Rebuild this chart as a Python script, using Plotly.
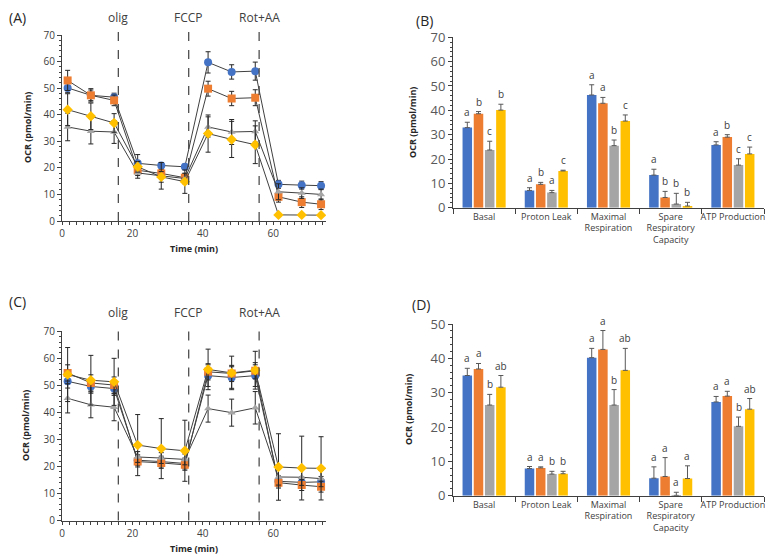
import plotly.graph_objects as go

W, H = 773, 557
OFF = 8  # default page body margin; figure is shrunk so it fills the window exactly

# ---- Seahorse time course (A, C) ----
time_min = [1.6, 8.2, 14.8, 21.5, 28.2, 34.9, 41.5, 48.2, 54.9, 61.5, 68.1, 73.6]
injections = [16, 36, 56]
injection_labels = ["olig", "FCCP", "Rot+AA"]

a_blue = [50.1, 47.3, 46.6, 21.7, 20.9, 20.4, 59.7, 56.1, 56.4, 13.8, 13.5, 13.3]
a_blue_err = [1.8, 2.0, 1.5, 3.3, 1.0, 1.0, 4.0, 2.7, 3.4, 1.5, 1.5, 1.5]
a_orange = [52.9, 47.3, 45.4, 19.1, 17.9, 16.3, 49.8, 46.1, 46.4, 9.1, 7.1, 6.3]
a_orange_err = [3.8, 2.5, 2.0, 2.0, 1.5, 1.5, 2.8, 2.7, 3.0, 2.0, 2.0, 2.0]
a_gray = [35.4, 33.8, 33.5, 18.1, 17.0, 16.0, 35.4, 33.5, 33.7, 11.0, 10.5, 10.0]
a_gray_err = [5.2, 4.8, 4.3, 2.0, 5.0, 2.0, 3.8, 4.7, 4.0, 3.0, 2.0, 2.0]
a_yellow = [41.9, 39.4, 36.9, 20.4, 16.6, 14.8, 32.9, 30.7, 28.7, 2.3, 2.3, 2.2]
a_yellow_err = [6.0, 5.0, 3.5, 2.0, 2.0, 4.4, 7.0, 6.8, 7.1, 0.5, 0.5, 0.5]

c_blue = [51.5, 49.6, 48.8, 22.3, 21.8, 21.1, 53.6, 52.9, 53.6, 14.5, 14.1, 14.3]
c_blue_err = [2.5, 2.5, 2.5, 2.0, 2.0, 2.0, 4.0, 4.0, 4.0, 2.0, 2.0, 2.0]
c_orange = [54.6, 50.9, 50.1, 21.8, 21.3, 20.6, 55.0, 54.4, 55.4, 14.0, 13.1, 12.5]
c_orange_err = [3.0, 3.0, 3.0, 2.0, 2.0, 2.0, 3.0, 3.0, 3.0, 2.0, 2.0, 2.0]
c_gray = [45.2, 42.8, 41.9, 23.5, 23.1, 22.6, 41.4, 39.9, 41.7, 16.1, 16.0, 15.5]
c_gray_err = [5.4, 4.8, 5.0, 2.0, 2.0, 2.0, 5.0, 5.0, 6.0, 3.0, 3.0, 3.0]
c_yellow = [54.0, 51.9, 51.3, 27.9, 26.6, 25.8, 55.9, 54.6, 55.6, 19.8, 19.4, 19.3]
c_yellow_err = [10.0, 9.2, 8.7, 11.3, 11.1, 11.3, 7.5, 6.2, 7.0, 12.3, 11.8, 11.7]

# ---- parameter bar charts (B, D) ----
categories = ["Basal", "Proton Leak", "Maximal<br>Respiration",
              "Spare<br>Respiratory<br>Capacity", "ATP Production"]

b_blue = [32.9, 7.1, 46.3, 13.4, 25.8]
b_blue_err = [2.2, 1.1, 4.2, 2.4, 1.3]
b_orange = [38.6, 9.6, 42.9, 4.2, 29.0]
b_orange_err = [0.9, 0.8, 2.4, 2.5, 1.0]
b_gray = [23.7, 6.2, 25.5, 1.5, 17.5]
b_gray_err = [3.6, 0.9, 2.3, 4.4, 2.6]
b_yellow = [40.1, 15.1, 35.6, 0.7, 22.1]
b_yellow_err = [2.4, 0.3, 2.5, 1.5, 2.8]
b_letters = [["a", "a", "a", "a", "a"],
             ["b", "b", "a", "b", "b"],
             ["c", "a", "b", "b", "c"],
             ["b", "c", "c", "b", "c"]]

d_blue = [35.0, 7.9, 40.2, 5.1, 27.3]
d_blue_err = [2.1, 0.6, 2.7, 3.3, 1.6]
d_orange = [36.9, 8.1, 42.6, 5.6, 29.0]
d_orange_err = [1.6, 0.3, 5.5, 5.5, 1.4]
d_gray = [26.4, 6.3, 26.4, 0.1, 20.2]
d_gray_err = [3.1, 0.8, 4.5, 0.9, 2.7]
d_yellow = [31.6, 6.4, 36.5, 5.0, 25.2]
d_yellow_err = [3.4, 0.7, 6.4, 3.7, 3.1]
d_letters = [["a", "a", "a", "a", "a"],
             ["a", "a", "a", "a", "a"],
             ["b", "b", "b", "a", "b"],
             ["ab", "b", "ab", "a", "ab"]]

colors = ["#4472C4", "#ED7D31", "#A5A5A5", "#FFC000"]
symbols = ["circle", "square", "triangle-up", "diamond"]
TXT = "#404040"

FW, FH = W - OFF, H - OFF


def fx(px):
    return (px - OFF) / FW


def fy(py):
    return 1 - (py - OFF) / FH


fig = go.Figure()

# line panels
for (xa, ya), series in [
    (("x", "y"), [(a_blue, a_blue_err), (a_orange, a_orange_err), (a_gray, a_gray_err), (a_yellow, a_yellow_err)]),
    (("x3", "y3"), [(c_blue, c_blue_err), (c_orange, c_orange_err), (c_gray, c_gray_err), (c_yellow, c_yellow_err)]),
]:
    for i, (vals, errs) in enumerate(series):
        fig.add_trace(go.Scatter(
            x=time_min, y=vals, xaxis=xa, yaxis=ya, mode="lines+markers",
            line=dict(color="#404040", width=1),
            marker=dict(color=colors[i], symbol=symbols[i], size=8 if i != 2 else 7),
            error_y=dict(type="data", array=errs, color="#262626", thickness=1, width=2.5),
            showlegend=False))

# bar panels
for (xa, ya), series in [
    (("x2", "y2"), [(b_blue, b_blue_err), (b_orange, b_orange_err), (b_gray, b_gray_err), (b_yellow, b_yellow_err)]),
    (("x4", "y4"), [(d_blue, d_blue_err), (d_orange, d_orange_err), (d_gray, d_gray_err), (d_yellow, d_yellow_err)]),
]:
    for i, (vals, errs) in enumerate(series):
        fig.add_trace(go.Bar(
            x=list(range(len(categories))), y=vals, xaxis=xa, yaxis=ya,
            marker=dict(color=colors[i], line=dict(width=0)),
            error_y=dict(type="data", array=errs, arrayminus=[0] * len(errs), symmetric=False,
                         color="#595959", thickness=1, width=2.5),
            showlegend=False))

BARGAP, GROUPGAP = 0.28, 0.15
slot = (1 - BARGAP) / 4

annotations = []
shapes = []

# letters above bars
for xa, ya, series, letters in [
    ("x2", "y2", [(b_blue, b_blue_err), (b_orange, b_orange_err), (b_gray, b_gray_err), (b_yellow, b_yellow_err)], b_letters),
    ("x4", "y4", [(d_blue, d_blue_err), (d_orange, d_orange_err), (d_gray, d_gray_err), (d_yellow, d_yellow_err)], d_letters),
]:
    for j, (vals, errs) in enumerate(series):
        for k in range(len(categories)):
            annotations.append(dict(
                x=k - (1 - BARGAP) / 2 + slot * (j + 0.5), y=vals[k] + errs[k],
                xref=xa, yref=ya, text=letters[j][k], showarrow=False,
                xanchor="center", yanchor="bottom", yshift=1, font=dict(size=10, color=TXT)))

# injection markers on line panels
for xa, ya, label_y in [("x", "y", 17), ("x3", "y3", 312)]:
    for t, lab in zip(injections, injection_labels):
        shapes.append(dict(type="line", xref=xa, yref=ya + " domain", x0=t, x1=t, y0=0, y1=1.04,
                           line=dict(color="#404040", width=1.2, dash="dash")))
        annotations.append(dict(x=t, y=fy(label_y), xref=xa, yref="paper", text=lab, showarrow=False,
                                xanchor="center", yanchor="middle", font=dict(size=12, color=TXT)))

# panel labels
for lab, px, py in [("(A)", 17, 18), ("(B)", 425, 21), ("(C)", 17, 301), ("(D)", 421, 304)]:
    annotations.append(dict(x=fx(px), y=fy(py), xref="paper", yref="paper", text=lab,
                            xanchor="center", yanchor="middle",
                            showarrow=False, font=dict(size=14, color="#262626")))

# axis titles
for px, py in [(27, 128), (413, 123), (25, 426), (408, 410)]:
    annotations.append(dict(x=fx(px), y=fy(py), xref="paper", yref="paper", text="<b>OCR (pmol/min)</b>",
                            xanchor="center", yanchor="middle",
                            textangle=-90, showarrow=False, font=dict(size=9, color="#262626")))
for py in [248, 548]:
    annotations.append(dict(x=fx(194), y=fy(py), xref="paper", yref="paper", text="<b>Time (min)</b>",
                            xanchor="center", yanchor="middle",
                            showarrow=False, font=dict(size=9, color="#262626")))

line_x = dict(range=[0, 75], dtick=20, tick0=0, showgrid=False, zeroline=False, showline=True,
              linecolor="#404040", linewidth=1, ticks="outside", ticklen=3, tickcolor="#404040",
              minor=dict(dtick=2, ticks="outside", ticklen=3, tickcolor="#404040", showgrid=False),
              tickfont=dict(size=10, color=TXT), automargin=False)
line_y = dict(range=[0, 70], dtick=10, showgrid=False, zeroline=False, showline=True,
              linecolor="#404040", linewidth=1, ticks="outside", ticklen=4, tickcolor="#404040",
              minor=dict(dtick=2, ticks="outside", ticklen=2, tickcolor="#404040", showgrid=False),
              tickfont=dict(size=10, color=TXT), automargin=False)
bar_x = dict(range=[-0.5, 4.5], tickvals=list(range(5)), ticktext=categories, ticks="", tickangle=0,
             showgrid=False, zeroline=False, showline=True, linecolor="#404040", linewidth=1,
             minor=dict(tickvals=[k - 0.5 for k in range(6)], ticks="outside", ticklen=5,
                        tickcolor="#404040", showgrid=False),
             tickfont=dict(size=9, color=TXT), automargin=False)
bar_y = dict(dtick=10, showgrid=False, zeroline=False, showline=True, linecolor="#404040", linewidth=1,
             ticks="outside", ticklen=4, tickcolor="#404040",
             minor=dict(dtick=2, ticks="outside", ticklen=2, tickcolor="#404040", showgrid=False),
             tickfont=dict(size=13, color="#595959"), automargin=False)

fig.update_layout(
    width=FW, height=FH, margin=dict(l=0, r=0, t=0, b=0, autoexpand=False),
    paper_bgcolor="white", plot_bgcolor="white", showlegend=False,
    font=dict(family="Open Sans, Liberation Sans, sans-serif", color=TXT),
    barmode="group", bargap=BARGAP, bargroupgap=GROUPGAP,
    xaxis=dict(line_x, domain=[fx(62), fx(326)], anchor="y"),
    yaxis=dict(line_y, domain=[fy(221), fy(35)], anchor="x"),
    xaxis3=dict(line_x, domain=[fx(62), fx(326)], anchor="y3"),
    yaxis3=dict(line_y, domain=[fy(520.5), fy(331.3)], anchor="x3"),
    xaxis2=dict(bar_x, domain=[fx(453), fx(764)], anchor="y2"),
    yaxis2=dict(bar_y, range=[0, 70], domain=[fy(207.7), fy(37.3)], anchor="x2"),
    xaxis4=dict(bar_x, domain=[fx(453), fx(764)], anchor="y4"),
    yaxis4=dict(bar_y, range=[0, 50], domain=[fy(495.7), fy(324)], anchor="x4"),
    annotations=annotations, shapes=shapes,
)

fig.write_html("out.html")
